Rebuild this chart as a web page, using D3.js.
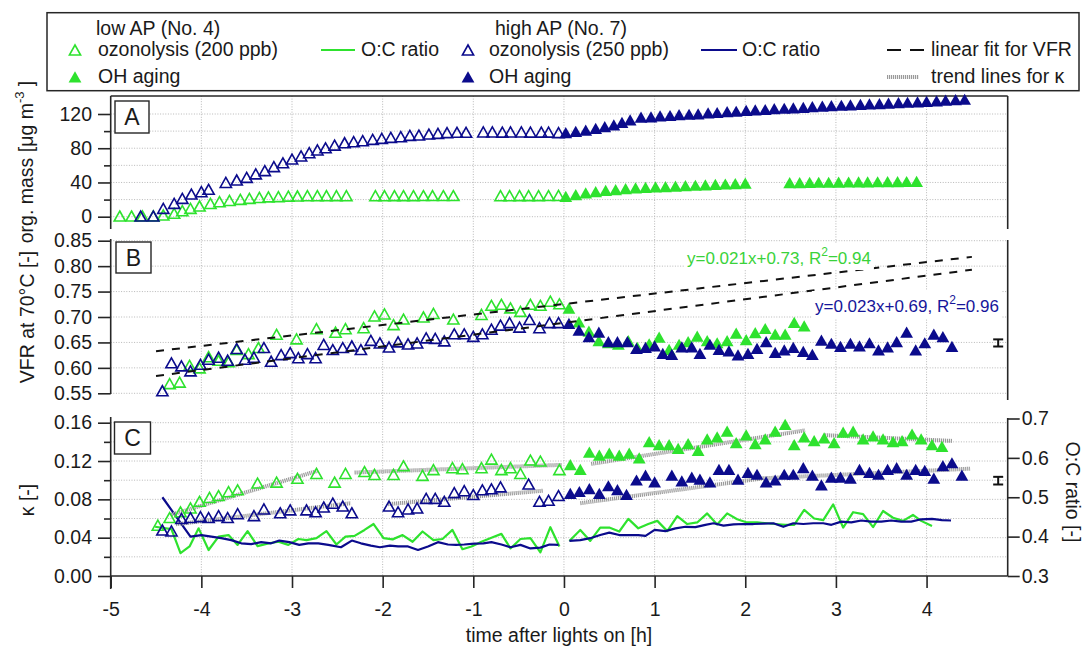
<!DOCTYPE html>
<html><head><meta charset="utf-8">
<script src="https://cdn.jsdelivr.net/npm/d3@7"></script>
<style>body{margin:0;background:#fff} svg{display:block}</style>
</head><body><svg id="c" width="1090" height="646"></svg>
<script>
// ---------------- DATA ----------------
const xTicks = [-5,-4,-3,-2,-1,0,1,2,3,4];
const aTicks = [0,40,80,120], aMinor = [20,60,100];
const bTicks = [0.55,0.60,0.65,0.70,0.75,0.80,0.85];
const cTicks = [0,0.04,0.08,0.12,0.16], cMinor = [0.02,0.06,0.10,0.14];
const ocTicks = [0.3,0.4,0.5,0.6,0.7];

// Panel A: organic mass [µg m-3]
const massLowOzo = [[-4.90,0.8],[-4.77,0.8],[-4.65,1],[-4.53,1],[-4.42,2],[-4.30,4],[-4.21,7],[-4.12,9.7],[-4.02,12.5],[-3.90,15.5],[-3.80,17.5],[-3.69,19],[-3.57,20.3],[-3.47,21.4],[-3.36,22.5],[-3.26,23.2],[-3.15,23.4],[-3.04,24],[-2.94,24.2],[-2.83,24.5],[-2.72,24.5],[-2.62,24.5],[-2.51,24.6],[-2.40,24.5],
 [-2.08,24.5],[-1.98,24.5],[-1.87,24.6],[-1.77,24.6],[-1.66,24.6],[-1.55,24.7],[-1.45,24.7],[-1.33,24.7],[-1.22,24.7],
 [-0.70,24.5],[-0.60,24.5],[-0.49,24.6],[-0.39,24.6],[-0.28,24.6],[-0.17,24.7],[-0.06,24.8]];
const massLowOH = [[0.02,23.5],[0.13,25.5],[0.24,27.5],[0.35,29],[0.46,30.5],[0.57,31.5],[0.68,32.5],[0.79,33.5],[0.90,34],[1.01,34.5],[1.12,35],[1.23,35.5],[1.34,36],[1.45,36.5],[1.56,37],[1.67,37.5],[1.78,38],[1.89,38.5],[2.00,39],
 [2.49,39.5],[2.60,39.5],[2.71,39.8],[2.81,40],[2.92,40],[3.03,40.2],[3.14,40.3],[3.25,40.5],[3.35,40.5],[3.46,40.6],[3.57,40.7],[3.68,40.8],[3.78,40.9],[3.89,41]];
const massHighOzo = [[-4.67,0.8],[-4.53,0.8],[-4.42,9.7],[-4.30,15.6],[-4.21,21.4],[-4.11,26.5],[-4.00,29.2],[-3.92,32],
 [-3.73,40],[-3.61,42.9],[-3.50,46],[-3.40,50],[-3.30,53.8],[-3.20,58.5],[-3.10,63],[-3.00,67.4],[-2.90,71],[-2.81,74.8],[-2.72,78],[-2.63,80.5],[-2.53,83.6],[-2.42,86.4],[-2.32,87.6],[-2.22,88.8],[-2.11,90.4],[-2.01,91.5],[-1.91,92.7],[-1.80,93.5],[-1.70,95],[-1.60,95.4],[-1.49,96.6],[-1.39,97.4],[-1.29,98.2],[-1.18,98.6],[-1.08,98.6],
 [-0.89,99],[-0.79,99],[-0.68,98.8],[-0.59,99],[-0.47,99],[-0.37,98.8],[-0.25,98.8],[-0.17,98.8],[-0.06,98.2]];
const massHighOH = [[0.02,98],[0.13,99.5],[0.24,101],[0.35,103],[0.45,105],[0.55,107],[0.64,110],[0.73,113],
 [0.85,116],[0.96,116.5],[1.06,117.5],[1.17,118],[1.27,119],[1.38,119.5],[1.48,120],[1.59,121],[1.69,121.5],[1.80,122.5],[1.90,123],[2.01,124],[2.11,124.5],[2.22,125],[2.32,126],[2.43,126.5],[2.53,127],[2.64,127.5],[2.74,128.5],[2.85,129],[2.95,129.5],[3.06,130],[3.16,130.5],[3.27,131],[3.37,131.5],[3.48,132],[3.58,132.5],[3.69,133],[3.79,133.5],[3.90,134],[4.00,134.5],[4.11,135],[4.21,136],[4.32,136.5],[4.42,137]];

// Panel B: VFR at 70 °C
const vfrLowOzo = [[-4.35,0.569],[-4.24,0.572],[-4.13,0.605],[-4.02,0.600],[-3.92,0.622],[-3.81,0.615],[-3.70,0.612],[-3.61,0.636],[-3.48,0.628],[-3.37,0.640],[-3.17,0.666],[-2.95,0.657],[-2.73,0.677],[-2.52,0.670],[-2.41,0.677],[-2.21,0.679],[-2.09,0.702],[-1.98,0.706],[-1.88,0.685],[-1.77,0.696],[-1.55,0.700],[-1.44,0.707],[-1.22,0.696],[-0.91,0.705],[-0.80,0.723],[-0.69,0.725],[-0.59,0.718],[-0.48,0.711],[-0.37,0.725],[-0.26,0.723],[-0.15,0.731],[-0.05,0.726]];
const vfrLowOH = [[0.055,0.717],[0.165,0.690],[0.275,0.672],[0.385,0.653],[0.49,0.649],[0.60,0.646],[0.71,0.653],[0.81,0.640],[0.94,0.647],[1.05,0.660],[1.16,0.636],[1.27,0.646],[1.37,0.651],[1.47,0.662],[1.58,0.653],[1.69,0.649],[1.80,0.653],[1.90,0.668],[2.01,0.655],[2.11,0.669],[2.22,0.677],[2.33,0.666],[2.44,0.666],[2.54,0.689],[2.65,0.682]];
const vfrHighOzo = [[-4.43,0.555],[-4.33,0.610],[-4.22,0.604],[-4.12,0.594],[-4.01,0.607],[-3.92,0.617],[-3.81,0.621],[-3.71,0.615],[-3.61,0.638],[-3.52,0.617],[-3.42,0.621],[-3.31,0.640],[-3.23,0.613],[-3.12,0.626],[-3.02,0.630],[-2.93,0.620],[-2.83,0.628],[-2.74,0.620],[-2.65,0.646],[-2.55,0.636],[-2.44,0.640],[-2.34,0.643],[-2.24,0.636],[-2.13,0.654],[-2.03,0.649],[-1.93,0.641],[-1.83,0.651],[-1.72,0.647],[-1.62,0.649],[-1.52,0.659],[-1.42,0.658],[-1.32,0.653],[-1.21,0.667],[-1.10,0.667],[-1.00,0.662],[-0.90,0.667],[-0.80,0.676],[-0.70,0.684],[-0.60,0.689],[-0.49,0.680],[-0.38,0.695],[-0.27,0.679],[-0.16,0.689],[-0.06,0.689]];
const vfrHighOH = [[0.055,0.687],[0.165,0.674],[0.275,0.661],[0.385,0.670],[0.49,0.651],[0.59,0.651],[0.70,0.651],[0.80,0.638],[0.90,0.640],[1.00,0.643],[1.09,0.628],[1.19,0.626],[1.30,0.641],[1.41,0.641],[1.50,0.628],[1.61,0.646],[1.71,0.636],[1.82,0.633],[1.92,0.625],[2.03,0.628],[2.13,0.638],[2.23,0.651],[2.33,0.630],[2.43,0.635],[2.53,0.640],[2.64,0.632],[2.74,0.626],[2.84,0.654],[2.95,0.648],[3.05,0.642],[3.16,0.648],[3.26,0.643],[3.37,0.649],[3.47,0.635],[3.57,0.641],[3.67,0.651],[3.78,0.670],[3.88,0.635],[3.98,0.649],[4.08,0.666],[4.18,0.661],[4.28,0.642]];
// linear fits for VFR (as drawn) and their labels
const fitLow = {slope:0.0206, intercept:0.7255, label:"y=0.021x+0.73, R", r2:"=0.94"};
const fitHigh = {slope:0.0232, intercept:0.6885, label:"y=0.023x+0.69, R", r2:"=0.96"};
const fitRange = [-4.5, 4.5];
const errB = [4.79, 0.649, 0.007];

// Panel C: kappa (left) and O:C ratio (right)
const kapLowOzo = [[-4.48,0.053],[-4.35,0.061],[-4.23,0.067],[-4.12,0.071],[-4.02,0.078],[-3.91,0.082],[-3.81,0.084],[-3.70,0.088],[-3.60,0.090],[-3.38,0.097],[-3.17,0.098],[-2.94,0.102],[-2.73,0.107],[-2.53,0.098],[-2.41,0.107],[-2.20,0.109],[-2.09,0.106],[-1.88,0.106],[-1.77,0.115],[-1.56,0.105],[-1.44,0.111],[-1.23,0.113],[-1.12,0.112],[-0.91,0.113],[-0.80,0.122],[-0.69,0.111],[-0.59,0.113],[-0.48,0.107],[-0.37,0.121],[-0.26,0.120],[-0.05,0.111]];
const kapLowOH = [[0.07,0.116],[0.18,0.111],[0.28,0.129],[0.39,0.126],[0.50,0.128],[0.61,0.126],[0.72,0.128],[0.83,0.123],[0.94,0.140],[1.05,0.137],[1.16,0.137],[1.26,0.133],[1.37,0.138],[1.48,0.131],[1.58,0.143],[1.69,0.145],[1.80,0.151],[1.90,0.139],[2.01,0.147],[2.11,0.138],[2.22,0.143],[2.33,0.151],[2.44,0.158],[2.54,0.137],[2.65,0.145],[2.76,0.141],[2.87,0.144],[2.98,0.139],[3.08,0.150],[3.19,0.151],[3.30,0.143],[3.41,0.146],[3.52,0.143],[3.63,0.140],[3.73,0.141],[3.84,0.148],[3.94,0.143],[4.06,0.137],[4.17,0.135]];
const kapHighOzo = [[-4.43,0.048],[-4.33,0.047],[-4.22,0.060],[-4.12,0.061],[-4.01,0.062],[-3.92,0.061],[-3.81,0.063],[-3.71,0.061],[-3.60,0.065],[-3.42,0.063],[-3.31,0.070],[-3.13,0.066],[-3.02,0.069],[-2.84,0.069],[-2.74,0.067],[-2.65,0.072],[-2.55,0.076],[-2.44,0.073],[-2.34,0.066],
 [-1.93,0.073],[-1.83,0.067],[-1.72,0.070],[-1.62,0.071],[-1.52,0.081],[-1.42,0.081],[-1.32,0.078],[-1.21,0.087],[-1.10,0.089],[-1.00,0.085],[-0.90,0.090],[-0.80,0.091],[-0.70,0.093],[-0.39,0.096],[-0.27,0.078],[-0.17,0.079],[-0.06,0.084]];
const kapHighOH = [[0.07,0.086],[0.17,0.088],[0.28,0.091],[0.39,0.086],[0.49,0.094],[0.59,0.090],[0.69,0.085],[0.80,0.100],[0.90,0.105],[1.00,0.098],[1.19,0.105],[1.30,0.099],[1.41,0.103],[1.50,0.101],[1.61,0.098],[1.71,0.111],[1.82,0.111],[1.92,0.101],[2.03,0.108],[2.13,0.106],[2.23,0.098],[2.33,0.100],[2.43,0.106],[2.53,0.106],[2.64,0.113],[2.74,0.105],[2.84,0.095],[2.95,0.103],[3.05,0.103],[3.16,0.102],[3.26,0.111],[3.37,0.108],[3.47,0.106],[3.57,0.111],[3.67,0.113],[3.78,0.106],[3.88,0.111],[3.98,0.110],[4.08,0.102],[4.18,0.115],[4.28,0.118],[4.39,0.105]];
const trendLow = [[[-4.33,0.064],[-2.71,0.110]],[[-2.31,0.108],[-0.02,0.116]],[[0.30,0.117],[2.66,0.152]],[[2.88,0.147],[4.28,0.141]]];
const trendHigh = [[[-4.28,0.054],[-2.35,0.076]],[[-1.94,0.075],[-0.23,0.089]],[[0.18,0.076],[2.20,0.102]],[[2.20,0.102],[4.48,0.112]]];
const errC = [4.79, 0.0995, 0.004];
const ocLowOzo = [[-4.51,0.425],[-4.33,0.419],[-4.23,0.358],[-4.13,0.375],[-4.03,0.421],[-3.92,0.366],[-3.81,0.400],[-3.70,0.404],[-3.60,0.379],[-3.49,0.414],[-3.38,0.376],[-3.26,0.383],[-3.15,0.387],[-3.04,0.379],[-2.93,0.394],[-2.84,0.391],[-2.73,0.396],[-2.62,0.414],[-2.51,0.380],[-2.41,0.400],[-2.31,0.402],[-2.20,0.417],[-2.10,0.432],[-1.99,0.396],[-1.89,0.393],[-1.78,0.404],[-1.67,0.387],[-1.56,0.413],[-1.44,0.391],[-1.34,0.394],[-1.23,0.417],[-1.12,0.368],[-1.02,0.375],[-0.91,0.387],[-0.80,0.397],[-0.69,0.407],[-0.59,0.370],[-0.48,0.394],[-0.37,0.396],[-0.26,0.360],[-0.15,0.424],[-0.05,0.375]];
const ocLowOH = [[0.06,0.389],[0.18,0.417],[0.29,0.389],[0.40,0.423],[0.50,0.423],[0.61,0.413],[0.71,0.445],[0.82,0.421],[0.93,0.432],[1.03,0.440],[1.14,0.414],[1.25,0.452],[1.36,0.432],[1.47,0.436],[1.58,0.459],[1.69,0.431],[1.80,0.459],[1.91,0.444],[2.02,0.436],[2.13,0.436],[2.24,0.434],[2.33,0.432],[2.44,0.430],[2.54,0.430],[2.65,0.468],[2.76,0.446],[2.86,0.442],[2.97,0.482],[3.08,0.423],[3.19,0.462],[3.30,0.457],[3.41,0.424],[3.52,0.465],[3.63,0.448],[3.74,0.440],[3.85,0.455],[3.94,0.440],[4.06,0.427]];
const ocHighOzo = [[-4.43,0.500],[-4.12,0.400],[-4.00,0.404],[-3.89,0.400],[-3.78,0.396],[-3.67,0.391],[-3.56,0.383],[-3.45,0.381],[-3.34,0.386],[-3.23,0.383],[-3.14,0.390],[-3.03,0.386],[-2.92,0.379],[-2.82,0.383],[-2.71,0.383],[-2.60,0.379],[-2.46,0.373],[-2.34,0.390],[-2.24,0.383],[-2.13,0.377],[-2.03,0.373],[-1.92,0.377],[-1.83,0.375],[-1.72,0.375],[-1.61,0.366],[-1.50,0.375],[-1.39,0.386],[-1.28,0.380],[-1.19,0.379],[-1.10,0.380],[-0.99,0.382],[-0.89,0.383],[-0.80,0.386],[-0.69,0.380],[-0.59,0.373],[-0.48,0.379],[-0.37,0.370],[-0.26,0.372],[-0.16,0.380],[-0.06,0.379]];
const ocHighOH = [[0.06,0.389],[0.18,0.391],[0.29,0.396],[0.40,0.404],[0.50,0.410],[0.61,0.404],[0.71,0.404],[0.82,0.404],[0.90,0.402],[1.00,0.417],[1.12,0.414],[1.23,0.421],[1.34,0.425],[1.45,0.424],[1.56,0.430],[1.65,0.434],[1.76,0.428],[1.87,0.431],[1.98,0.432],[2.09,0.432],[2.20,0.433],[2.31,0.434],[2.42,0.425],[2.53,0.434],[2.64,0.432],[2.75,0.434],[2.86,0.434],[2.95,0.430],[3.06,0.438],[3.17,0.436],[3.28,0.441],[3.39,0.438],[3.50,0.438],[3.61,0.441],[3.72,0.438],[3.83,0.438],[3.94,0.444],[4.06,0.445],[4.17,0.442],[4.27,0.441]];

// ---------------- DRAW ----------------
const FONT = "'Liberation Sans', Arial, Helvetica, sans-serif";
const GREEN = '#2ee22e', BLUE = '#0b0b8c', AX = '#262626', GRID = '#b8b8b8', TREND = '#9a9a9a';
const FS = 19.5;
const svg = d3.select('#c').attr('font-family', FONT);

const L = 110.7, R = 1007.7;
const x = d3.scaleLinear().domain([-5, 4.895]).range([L, R]);
const yA = d3.scaleLinear().domain([0, 120]).range([216.7, 114]);
const yB = d3.scaleLinear().domain([0.55, 0.85]).range([393.3, 240.7]);
const yC = d3.scaleLinear().domain([0, 0.16]).range([576, 422.7]);
const yOC = d3.scaleLinear().domain([0.3, 0.7]).range([576, 418.5]);

// gridlines
const grid = svg.append('g').attr('stroke', GRID).attr('stroke-width', 1).attr('stroke-dasharray', '1,1.6');
xTicks.slice(1).forEach(t => grid.append('line').attr('x1', x(t)).attr('x2', x(t)).attr('y1', 96).attr('y2', 576));
aTicks.concat(aMinor).forEach(v => grid.append('line').attr('x1', L).attr('x2', R).attr('y1', yA(v)).attr('y2', yA(v)));
bTicks.forEach(v => grid.append('line').attr('x1', L).attr('x2', R).attr('y1', yB(v)).attr('y2', yB(v)));
cTicks.slice(1).concat(cMinor).forEach(v => grid.append('line').attr('x1', L).attr('x2', R).attr('y1', yC(v)).attr('y2', yC(v)));

// frame lines
const fr = svg.append('g').attr('stroke', AX).attr('stroke-width', 1.6).attr('fill', 'none');
[[L, 96, L, 229], [L, 239, L, 394], [L, 417, L, 589], [R, 96, R, 229], [R, 240, R, 400], [R, 418, R, 576], [L, 96, R, 96], [L, 576, R, 576]]
  .forEach(s => fr.append('line').attr('x1', s[0]).attr('y1', s[1]).attr('x2', s[2]).attr('y2', s[3]));

function styleAxis(g) {
  g.select('.domain').remove();
  g.attr('font-family', FONT).attr('font-size', FS).attr('color', AX);
  g.selectAll('line').attr('stroke-width', 1.6);
  g.selectAll('text').attr('fill', '#1a1a1a');
}
const f2 = d3.format('.2f'), f1 = d3.format('.1f');
svg.append('g').attr('transform', `translate(${L},0)`).call(d3.axisLeft(yA).tickValues(aTicks).tickSize(12.7).tickPadding(6).tickFormat(d => String(d))).call(styleAxis);
svg.append('g').attr('transform', `translate(${L},0)`).call(d3.axisLeft(yA).tickValues(aMinor).tickSize(6.7).tickFormat('')).call(styleAxis);
svg.append('g').attr('transform', `translate(${L},0)`).call(d3.axisLeft(yB).tickValues(bTicks).tickSize(12.7).tickPadding(6).tickFormat(f2)).call(styleAxis);
svg.append('g').attr('transform', `translate(${L},0)`).call(d3.axisLeft(yC).tickValues(cTicks).tickSize(12.7).tickPadding(6).tickFormat(f2)).call(styleAxis);
svg.append('g').attr('transform', `translate(${L},0)`).call(d3.axisLeft(yC).tickValues(cMinor).tickSize(6.7).tickFormat('')).call(styleAxis);
svg.append('g').attr('transform', `translate(${R},0)`).call(d3.axisRight(yOC).tickValues(ocTicks).tickSize(12).tickPadding(2).tickFormat(f1)).call(styleAxis);
svg.append('g').attr('transform', `translate(0,576)`).call(d3.axisBottom(x).tickValues(xTicks).tickSize(12).tickPadding(14).tickFormat(d => String(d))).call(styleAxis);

// axis titles
const t19 = (sel) => sel.attr('font-size', FS).attr('fill', '#1a1a1a');
const ta = svg.append('text').attr('transform', 'translate(33,162) rotate(-90)').attr('text-anchor', 'middle').call(t19);
ta.append('tspan').text('org. mass [μg m');
ta.append('tspan').attr('dy', -9).attr('font-size', 13).text('-3');
ta.append('tspan').attr('dy', 9).text(' ]');
svg.append('text').attr('transform', 'translate(34,317) rotate(-90)').attr('text-anchor', 'middle').call(t19).text('VFR at 70°C [-]');
svg.append('text').attr('transform', 'translate(34,500) rotate(-90)').attr('text-anchor', 'middle').call(t19).text('κ [-]');
svg.append('text').attr('transform', 'translate(1066,492) rotate(90)').attr('text-anchor', 'middle').call(t19).text('O:C ratio [-]');
svg.append('text').attr('x', 559).attr('y', 642).attr('text-anchor', 'middle').call(t19).text('time after lights on [h]');

// panel letter boxes
[['A', 115, 101, 34, 32], ['B', 116, 242, 35, 31], ['C', 114.5, 422, 36, 32]].forEach(b => {
  svg.append('rect').attr('x', b[1]).attr('y', b[2]).attr('width', b[3]).attr('height', b[4]).attr('fill', '#fff').attr('stroke', AX).attr('stroke-width', 1.4);
  svg.append('text').attr('x', b[1] + b[3] / 2).attr('y', b[2] + b[4] / 2 + 8).attr('text-anchor', 'middle').attr('font-size', 23).attr('fill', '#1a1a1a').text(b[0]);
});

// markers
const triO = 'M0,-5L5.6,5L-5.6,5Z';
const triF = 'M0,-5.8L6.4,5.4L-6.4,5.4Z';
function markers(data, ys, color, filled) {
  svg.append('g').selectAll('path').data(data).join('path')
    .attr('transform', d => `translate(${x(d[0])},${ys(d[1])})`)
    .attr('d', filled ? triF : triO)
    .attr('fill', filled ? color : 'none')
    .attr('stroke', filled ? 'none' : color)
    .attr('stroke-width', 1.6);
}
function line(data, ys, color, w, dash) {
  const p = svg.append('path').datum(data)
    .attr('d', d3.line().x(d => x(d[0])).y(d => ys(d[1])))
    .attr('fill', 'none').attr('stroke', color).attr('stroke-width', w).attr('stroke-linejoin', 'round');
  if (dash) p.attr('stroke-dasharray', dash);
  return p;
}

// Panel C lines
line(ocLowOzo, yOC, GREEN, 2.2); line(ocLowOH, yOC, GREEN, 2.2);
line(ocHighOzo, yOC, BLUE, 2.2); line(ocHighOH, yOC, BLUE, 2.2);
trendLow.concat(trendHigh).forEach(s => line(s, yC, TREND, 4, '1.2,0.8'));

// markers A
markers(massLowOzo, yA, GREEN, false); markers(massLowOH, yA, GREEN, true);
markers(massHighOzo, yA, BLUE, false); markers(massHighOH, yA, BLUE, true);
// markers B
markers(vfrLowOzo, yB, GREEN, false); markers(vfrLowOH, yB, GREEN, true);
markers(vfrHighOzo, yB, BLUE, false); markers(vfrHighOH, yB, BLUE, true);
// markers C
markers(kapLowOzo, yC, GREEN, false); markers(kapLowOH, yC, GREEN, true);
markers(kapHighOzo, yC, BLUE, false); markers(kapHighOH, yC, BLUE, true);

// fit lines
[fitLow, fitHigh].forEach(f => line(fitRange.map(t => [t, f.intercept + f.slope * t]), yB, '#111', 2, '8,8'));

// fit labels (with white background)
function fitLabel(f, color, px, py) {
  const g = svg.append('g');
  const bg = g.append('rect').attr('fill', '#fff');
  const t = g.append('text').attr('x', px).attr('y', py).attr('font-size', 17).attr('fill', color);
  t.append('tspan').text(f.label);
  t.append('tspan').attr('dy', -8).attr('font-size', 12).text('2');
  t.append('tspan').attr('dy', 8).text(f.r2);
  const bb = t.node().getBBox();
  bg.attr('x', bb.x - 3).attr('y', bb.y - 2).attr('width', bb.width + 6).attr('height', bb.height + 4);
}
fitLabel(fitLow, '#3ad23a', 687, 264);
fitLabel(fitHigh, '#16169a', 815, 312);

// error bars
function errBar(e, ys) {
  const g = svg.append('g').attr('stroke', '#111').attr('stroke-width', 2);
  const cx = x(e[0]), y1 = ys(e[1] + e[2]), y2 = ys(e[1] - e[2]);
  g.append('line').attr('x1', cx).attr('x2', cx).attr('y1', y1).attr('y2', y2);
  g.append('line').attr('x1', cx - 5).attr('x2', cx + 5).attr('y1', y1).attr('y2', y1);
  g.append('line').attr('x1', cx - 5).attr('x2', cx + 5).attr('y1', y2).attr('y2', y2);
}
errBar(errB, yB); errBar(errC, yC);

// legend
const lg = svg.append('g');
lg.append('rect').attr('x', 47).attr('y', 12.7).attr('width', 1032).attr('height', 78).attr('fill', '#fff').attr('stroke', AX).attr('stroke-width', 1.5);
const lt = (tx, ty, s) => lg.append('text').attr('x', tx).attr('y', ty).attr('font-size', FS).attr('fill', '#1a1a1a').text(s);
const r1 = 35, r2 = 56, r3 = 83;
lt(96, r1, 'low AP (No. 4)');
lt(98, r2, 'ozonolysis (200 ppb)');
lt(98, r3, 'OH aging');
lt(361, r2, 'O:C ratio');
lt(495, r1, 'high AP (No. 7)');
lt(489, r2, 'ozonolysis (250 ppb)');
lt(489, r3, 'OH aging');
lt(742, r2, 'O:C ratio');
lt(931, r2, 'linear fit for VFR');
lt(931, r3, 'trend lines for κ');
const lm = (tx, ty, color, filled) => lg.append('path').attr('transform', `translate(${tx},${ty})`).attr('d', filled ? triF : triO)
  .attr('fill', filled ? color : 'none').attr('stroke', filled ? 'none' : color).attr('stroke-width', 1.6);
lm(75, r2 - 6, GREEN, false); lm(75, r3 - 6, GREEN, true);
lm(468, r2 - 6, BLUE, false); lm(468, r3 - 6, BLUE, true);
const ll = (x1, x2, ty, color, w, dash) => { const l = lg.append('line').attr('x1', x1).attr('x2', x2).attr('y1', ty).attr('y2', ty).attr('stroke', color).attr('stroke-width', w); if (dash) l.attr('stroke-dasharray', dash); };
ll(321, 355, r2 - 6, GREEN, 2.2);
ll(701, 737, r2 - 6, BLUE, 2.2);
ll(887, 926, r2 - 6, '#111', 2, '14,9');
ll(887, 919, r3 - 6, TREND, 4, '1.2,0.8');
</script>
</body></html>
